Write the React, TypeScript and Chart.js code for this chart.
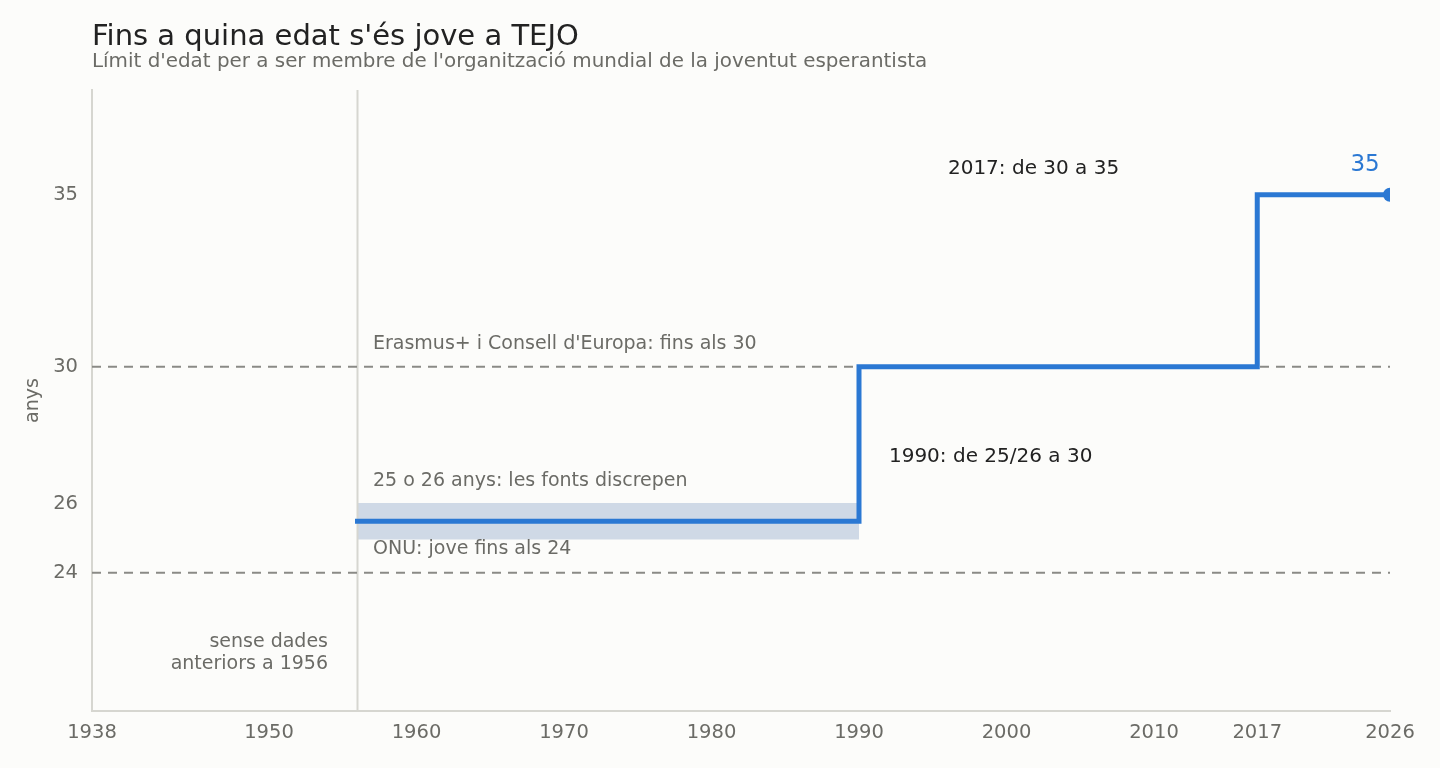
import React, { useEffect, useRef } from "react";
import { Chart, registerables } from "chart.js";

Chart.register(...registerables);

// ---- data ----
const stepYears = [1956, 1990, 2017, 2026];
const stepAges = [25.5, 30, 35, 35];
const bandYears = [1956, 1990];
const bandTop = [26, 26];
const bandBottom = [25, 25];
const refYears = [1938, 2026];
const refOnu = [24, 24];
const refErasmus = [30, 30];
const dataStartYear = 1956;
const xTicks = [1938, 1950, 1960, 1970, 1980, 1990, 2000, 2010, 2017, 2026];
const yTicks = [24, 26, 30, 35];
const yMin = 19.98;
const yMax = 38.05;

const TITLE = "Fins a quina edat s'és jove a TEJO";
const SUBTITLE = "Límit d'edat per a ser membre de l'organització mundial de la joventut esperantista";
const Y_TITLE = "anys";

const FONT = "'DejaVu Sans', sans-serif";
const BLUE = "#2b78d3";
const BAND = "#cfd9e6";
const GRAY_TEXT = "#6b6b66";
const DARK_TEXT = "#222222";
const AXIS = "#d6d6d0";

type Note = { text: string[]; x: number; y: number; align: CanvasTextAlign; color: string; size: number };
const notes: Note[] = [
  { text: ["Erasmus+ i Consell d'Europa: fins als 30"], x: 1957.05, y: 30.67, align: "left", color: GRAY_TEXT, size: 19 },
  { text: ["25 o 26 anys: les fonts discrepen"], x: 1957.05, y: 26.66, align: "left", color: GRAY_TEXT, size: 19 },
  { text: ["ONU: jove fins als 24"], x: 1957.05, y: 24.68, align: "left", color: GRAY_TEXT, size: 19 },
  { text: ["1990: de 25/26 a 30"], x: 1992.03, y: 27.38, align: "left", color: DARK_TEXT, size: 20 },
  { text: ["2017: de 30 a 35"], x: 1996.03, y: 35.76, align: "left", color: DARK_TEXT, size: 20 },
  { text: ["35"], x: 2025.3, y: 35.86, align: "right", color: BLUE, size: 23 },
  { text: ["sense dades", "anteriors a 1956"], x: 1954.0, y: 22.0, align: "right", color: GRAY_TEXT, size: 19 },
];

const textPlugin = {
  id: "customText",
  afterDraw(chart: any) {
    const ctx = chart.ctx;
    const xs = chart.scales.x;
    const ys = chart.scales.y;
    ctx.save();
    ctx.textBaseline = "middle";
    ctx.textAlign = "left";
    ctx.fillStyle = DARK_TEXT;
    ctx.font = `29px ${FONT}`;
    ctx.fillText(TITLE, chart.chartArea.left, 37);
    ctx.fillStyle = GRAY_TEXT;
    ctx.font = `19.9px ${FONT}`;
    ctx.fillText(SUBTITLE, chart.chartArea.left, 62);
    ctx.save();
    ctx.translate(33, (chart.chartArea.top + chart.chartArea.bottom) / 2);
    ctx.rotate(-Math.PI / 2);
    ctx.textAlign = "center";
    ctx.font = `19px ${FONT}`;
    ctx.fillStyle = GRAY_TEXT;
    ctx.fillText(Y_TITLE, 0, 0);
    ctx.restore();
    for (const n of notes) {
      ctx.font = `${n.size}px ${FONT}`;
      ctx.fillStyle = n.color;
      ctx.textAlign = n.align;
      const px = xs.getPixelForValue(n.x);
      const py0 = ys.getPixelForValue(n.y);
      n.text.forEach((t, i) => ctx.fillText(t, px, py0 + i * 22));
    }
    ctx.restore();
  },
};

const bgPlugin = {
  id: "bg",
  beforeDraw(chart: any) {
    const ctx = chart.ctx;
    ctx.save();
    ctx.fillStyle = "#fcfcfa";
    ctx.fillRect(0, 0, chart.width, chart.height);
    ctx.restore();
  },
};

const pts = (xs: number[], ys: number[]) => xs.map((x, i) => ({ x, y: ys[i] }));

export default function App() {
  const ref = useRef<HTMLCanvasElement | null>(null);
  useEffect(() => {
    document.body.style.margin = "0";
    document.body.style.background = "#fcfcfa";
    const chart = new Chart(ref.current as HTMLCanvasElement, {
      type: "line",
      data: {
        datasets: [
          {
            data: pts(stepYears, stepAges),
            borderColor: BLUE,
            backgroundColor: BLUE,
            borderWidth: 5,
            stepped: "before",
            borderJoinStyle: "miter",
            borderCapStyle: "square",
            pointRadius: stepYears.map((_, i) => (i === stepYears.length - 1 ? 7 : 0)),
            pointBorderWidth: 0,
            fill: false,
          } as any,
          {
            data: pts(refYears, refErasmus),
            borderColor: "#8a8a86",
            borderWidth: 2,
            borderDash: [9, 7],
            pointRadius: 0,
            fill: false,
          },
          {
            data: pts(refYears, refOnu),
            borderColor: "#8a8a86",
            borderWidth: 2,
            borderDash: [9, 7],
            pointRadius: 0,
            fill: false,
          },
          {
            data: [
              { x: dataStartYear, y: yMin },
              { x: dataStartYear, y: yMax },
            ],
            borderColor: AXIS,
            borderWidth: 2,
            pointRadius: 0,
            fill: false,
          },
          {
            data: pts(bandYears, bandTop),
            borderWidth: 2,
            borderColor: BAND,
            backgroundColor: BAND,
            pointRadius: 0,
            fill: "+1",
          },
          {
            data: pts(bandYears, bandBottom),
            borderWidth: 2,
            borderColor: BAND,
            pointRadius: 0,
            fill: false,
          },
        ],
      },
      options: {
        animation: false,
        responsive: true,
        maintainAspectRatio: false,
        layout: { padding: { top: 90, left: 0, right: 50, bottom: 0 } },
        plugins: { legend: { display: false }, tooltip: { enabled: false }, title: { display: false } },
        scales: {
          x: {
            type: "linear",
            min: 1938,
            max: 2026,
            afterBuildTicks: (s: any) => {
              s.ticks = xTicks.map((v) => ({ value: v }));
            },
            afterFit: (s: any) => {
              s.height = 57;
            },
            grid: { display: false },
            border: { display: true, color: AXIS, width: 2 },
            ticks: {
              font: { family: "DejaVu Sans", size: 19.5 },
              color: GRAY_TEXT,
              padding: 2,
              maxRotation: 0,
              autoSkip: false,
              callback: (v: any) => String(v),
            },
          },
          y: {
            type: "linear",
            min: yMin,
            max: yMax,
            afterBuildTicks: (s: any) => {
              s.ticks = yTicks.map((v) => ({ value: v }));
            },
            afterFit: (s: any) => {
              s.width = 92;
            },
            grid: { display: false },
            border: { display: true, color: AXIS, width: 2 },
            ticks: {
              font: { family: "DejaVu Sans", size: 19.5 },
              color: GRAY_TEXT,
              padding: 6,
              autoSkip: false,
              callback: (v: any) => String(v),
            },
          },
        },
      },
      plugins: [bgPlugin, textPlugin],
    });
    return () => chart.destroy();
  }, []);
  return (
    <div style={{ position: "absolute", left: 0, top: 0, width: 1440, height: 768, background: "#fcfcfa" }}>
      <canvas ref={ref} />
    </div>
  );
}
